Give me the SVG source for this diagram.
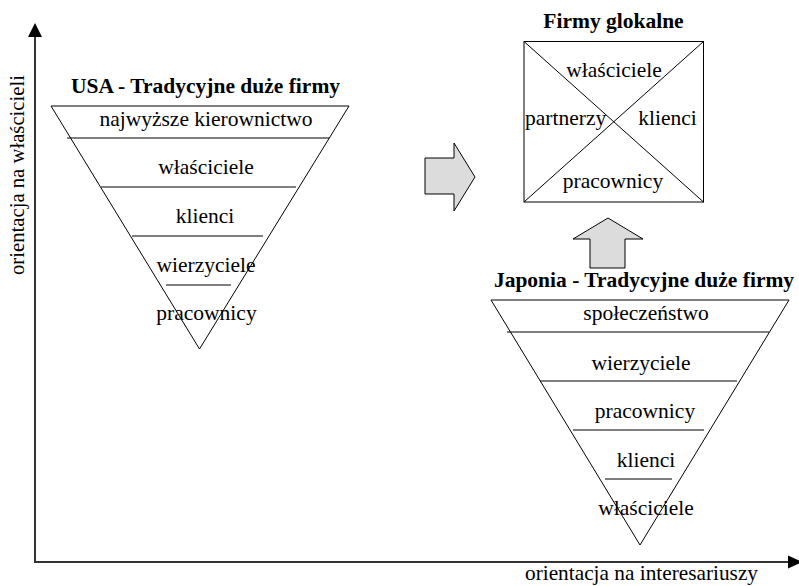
<svg xmlns="http://www.w3.org/2000/svg" width="799" height="586" viewBox="0 0 799 586">
<defs>
<style>
text{font-family:"Liberation Serif","Times New Roman",serif;font-size:21.5px;fill:#000}
.t{text-anchor:middle}
.b{font-weight:bold}
.ln{stroke:#000;stroke-width:1;fill:none}
.tri{stroke:#000;stroke-width:1;fill:#fff}
.ax{stroke:#333;stroke-width:2;fill:none}
.blk{fill:#dcdcdc;stroke:#000;stroke-width:1}
</style>
</defs>
<rect width="799" height="586" fill="#fff"/>
<g id="axes">
<line class="ax" x1="35" y1="562" x2="35" y2="36"/>
<polygon points="35,23 28,37 42,37" fill="#000"/>
<line class="ax" x1="34" y1="562" x2="789" y2="562"/>
<polygon points="802,562 788,555.5 788,568.5" fill="#000"/>
<text class="t" transform="translate(24,175) rotate(-90)" textLength="200" lengthAdjust="spacingAndGlyphs">orientacja na właścicieli</text>
<text class="t" x="641.5" y="580" textLength="233" lengthAdjust="spacingAndGlyphs">orientacja na interesariuszy</text>
</g>
<g id="usa">
<polygon class="tri" points="51,106 349,106 199.5,349"/>
<line class="ln" x1="67" y1="138" x2="329" y2="138"/>
<line class="ln" x1="101" y1="187" x2="296" y2="187"/>
<line class="ln" x1="132" y1="236" x2="263" y2="236"/>
<line class="ln" x1="166" y1="285" x2="231" y2="285"/>
<text class="t b" x="205.5" y="93">USA - Tradycyjne duże firmy</text>
<text class="t" x="206" y="126">najwyższe kierownictwo</text>
<text class="t" x="206" y="174">właściciele</text>
<text class="t" x="205" y="223">klienci</text>
<text class="t" x="206" y="272">wierzyciele</text>
<text class="t" x="206.5" y="320">pracownicy</text>
</g>
<g id="glokalne">
<rect class="tri" x="524" y="41.5" width="179.5" height="160.5"/>
<line class="ln" x1="524" y1="41.5" x2="703.5" y2="202"/>
<line class="ln" x1="703.5" y1="41.5" x2="524" y2="202"/>
<text class="t b" x="613.5" y="28">Firmy glokalne</text>
<text class="t" x="614" y="77">właściciele</text>
<text x="525" y="125">partnerzy</text>
<text class="t" x="667.5" y="125">klienci</text>
<text class="t" x="613" y="188">pracownicy</text>
</g>
<g id="japonia">
<polygon class="tri" points="491,300 789,300 640,545"/>
<line class="ln" x1="507" y1="332" x2="769" y2="332"/>
<line class="ln" x1="540" y1="381" x2="737" y2="381"/>
<line class="ln" x1="573" y1="430" x2="704" y2="430"/>
<line class="ln" x1="605" y1="479" x2="672" y2="479"/>
<text class="t b" x="644" y="287">Japonia - Tradycyjne duże firmy</text>
<text class="t" x="646" y="320">społeczeństwo</text>
<text class="t" x="641" y="370">wierzyciele</text>
<text class="t" x="645" y="418">pracownicy</text>
<text class="t" x="646" y="467">klienci</text>
<text class="t" x="646" y="515">właściciele</text>
</g>
<g id="connectors">
<polygon class="blk" points="425,158 454,158 454,143 475,177 454,211 454,194 425,194"/>
<polygon class="blk" points="590,268 590,239 573,239 608,218 643,239 625,239 625,268"/>
</g>
</svg>
